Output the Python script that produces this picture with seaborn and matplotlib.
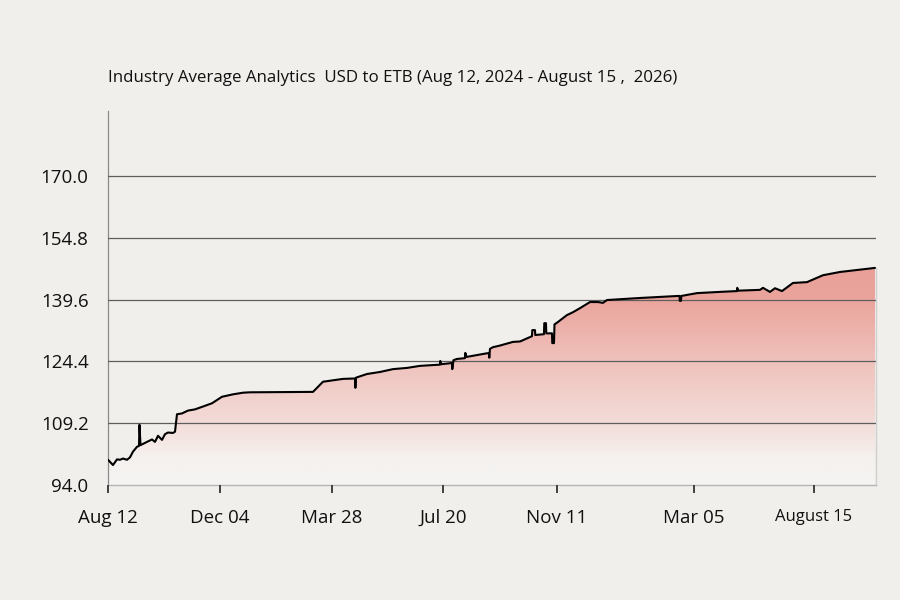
import numpy as np
import pandas as pd
import matplotlib
matplotlib.use('Agg')
import matplotlib.pyplot as plt
from matplotlib.colors import LinearSegmentedColormap, Normalize
import seaborn as sns

sns.set_theme(style='white')
plt.rcParams['font.family'] = ['Open Sans', 'DejaVu Sans']

# days since Aug 12 and USD->ETB rate
day = [0, 5, 9, 12, 15, 19, 22, 25, 29, 31, 31.5, 32.5, 39, 44, 47, 50, 54, 57, 60, 65, 67,
       69, 74, 80, 87, 95, 104, 114, 125, 135, 142, 205, 215, 235,
       247, 247.4, 248, 259, 272, 285, 299, 312, 325,
       332, 332.3, 333, 344, 344.3, 345.5, 349, 357, 357.3, 358.5, 379,
       381, 381.3, 382, 385, 392, 405, 412, 424, 424.3, 427, 427.3, 432,
       436, 436.3, 438, 438.3, 444, 444.3, 446, 446.5, 450, 459, 465, 472, 482, 490, 495, 499,
       532, 570, 571.5, 571.8, 573, 573.3, 589, 612, 629, 629.3, 630,
       652, 655, 662, 667, 674, 685, 699, 715, 732, 767]
rate = [100.2, 98.9, 100.3, 100.2, 100.5, 100.2, 100.8, 102.2, 103.4, 103.6, 108.8, 103.8, 104.6, 105.2, 104.6, 106.1, 105.1, 106.5, 106.9, 106.8, 107.1,
        111.4, 111.6, 112.3, 112.6, 113.3, 114.1, 115.7, 116.3, 116.7, 116.8, 116.9, 119.4, 120.1,
        120.2, 117.9, 120.4, 121.3, 121.8, 122.5, 122.8, 123.3, 123.5,
        123.6, 124.5, 123.7, 124.0, 122.5, 124.7, 125.0, 125.2, 126.5, 125.5, 126.4,
        126.4, 125.3, 127.5, 127.9, 128.3, 129.2, 129.3, 130.6, 132.1, 132.1, 130.9, 131.0,
        131.1, 133.8, 133.8, 131.3, 131.3, 128.9, 128.9, 133.5, 134.1, 135.8, 136.5, 137.5, 139.0, 139.0, 138.8, 139.5,
        140.0, 140.5, 140.5, 139.3, 139.3, 140.5, 141.2, 141.5, 141.7, 142.5, 141.8,
        142.0, 142.5, 141.5, 142.4, 141.7, 143.7, 143.9, 145.6, 146.4, 147.4]

tick_days = [0, 112, 224, 335, 449, 586, 706]
tick_labels = ['Aug 12', 'Dec 04', 'Mar 28', 'Jul 20', 'Nov 11', 'Mar 05', 'August 15']
y_ticks = [94.0, 109.2, 124.4, 139.6, 154.8, 170.0]

df = pd.DataFrame({'day': day, 'rate': rate})

bg = '#f0efeb'
fig = plt.figure(figsize=(9, 6), dpi=100, facecolor=bg)
ax = fig.add_axes([0.12, 0.1917, 0.8533, 0.6233], facecolor=bg)

# gradient fill under the line
pink = LinearSegmentedColormap.from_list('pink', [
    (0.0, '#f5f4f2'), (0.12, '#f5f1ef'), (0.28, '#f3dcd8'),
    (0.56, '#efc2bc'), (0.85, '#eaa49c'), (1.0, '#e9a098')])
poly = ax.fill_between(df['day'], df['rate'], 94, color='none', lw=0, zorder=1)
grad = np.linspace(94, 148, 300).reshape(-1, 1)
im = ax.imshow(grad, extent=[0, 768, 94, 148], origin='lower', aspect='auto',
               cmap=pink, norm=Normalize(94, 148), zorder=1)
im.set_clip_path(poly.get_paths()[0], transform=ax.transData)

sns.lineplot(data=df, x='day', y='rate', ax=ax, color='black', lw=1.5,
             estimator=None, sort=False, zorder=3)

ax.set_xlim(0, 768)
ax.set_ylim(94, 186)
ax.set_xlabel('')
ax.set_ylabel('')

ax.set_yticks(y_ticks)
ax.set_yticklabels([f'{v:.1f}' for v in y_ticks])
ax.set_xticks(tick_days)
ax.set_xticklabels(tick_labels)

ax.set_axisbelow(False)
ax.grid(axis='y', color='#5e5e5e', lw=0.9)
ax.grid(axis='x', visible=False)
ax.get_ygridlines()[0].set_visible(False)
for gl in ax.get_ygridlines():
    gl.set_zorder(2.5)

ax.tick_params(axis='y', length=0, pad=14, labelsize=13.5, labelcolor='#111111')
ax.tick_params(axis='x', length=6, width=1.3, color='#333333', direction='out',
               pad=11, labelsize=13.5, labelcolor='#111111', bottom=True)
ax.get_xticklabels()[-1].set_fontsize(12)

ax.spines['top'].set_visible(False)
ax.spines['left'].set_color('#8a8a8a')
ax.spines['left'].set_linewidth(0.9)
ax.spines['bottom'].set_color('#b5b5b5')
ax.spines['bottom'].set_linewidth(1.0)
ax.spines['right'].set_color('#d0d0d0')
ax.spines['right'].set_linewidth(1.0)
ax.spines['right'].set_bounds(94, 147.4)

fig.text(108 / 900, 1 - 78 / 600,
         'Industry Average Analytics  USD to ETB (Aug 12, 2024 - August 15 ,  2026)',
         ha='left', va='center', fontsize=12.2, color='#111111')

fig.savefig('out.png', dpi=100, facecolor=bg)
